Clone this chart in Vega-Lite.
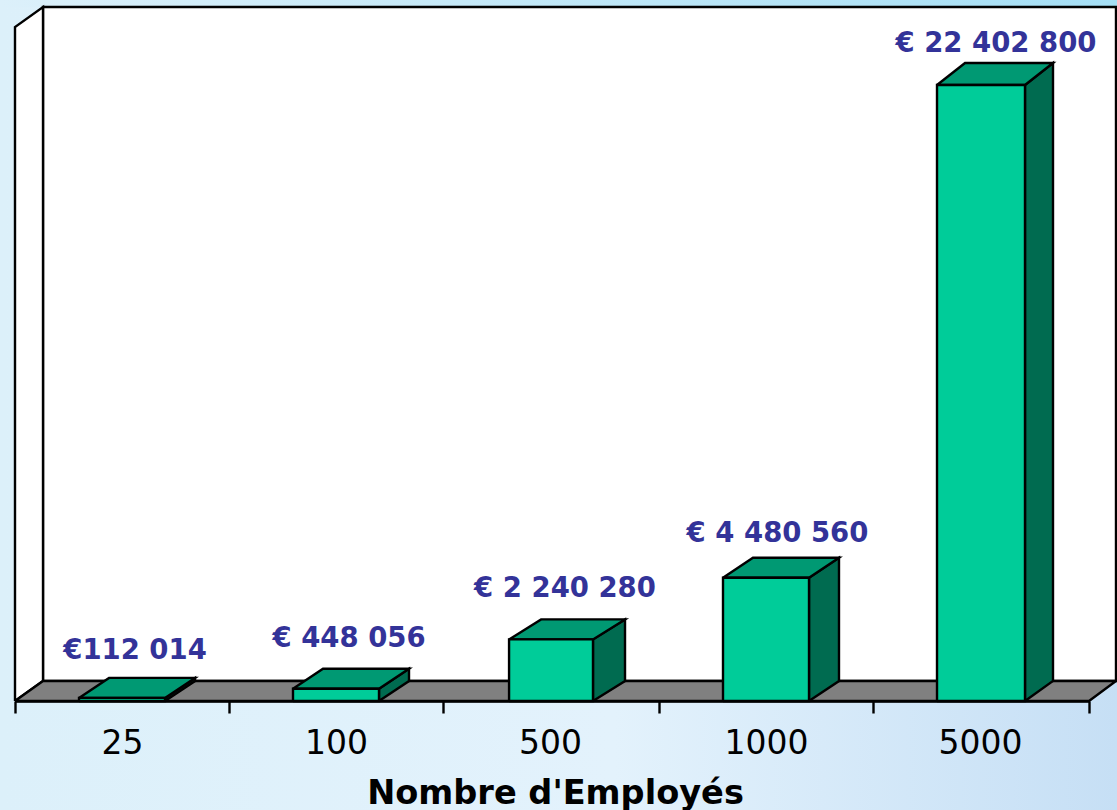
{
"$schema":"https://vega.github.io/schema/vega-lite/v6.json",
"width":1074,"height":674,
"autosize":{"type":"none"},
"padding":{"left":15,"top":27,"right":28,"bottom":109},
"background":"#e0f0fa",
"config":{"view":{"stroke":null}},
"datasets":{
 "barres":[
  {"employes":"25","valeur":112014,"etiquette":"€112 014"},
  {"employes":"100","valeur":448056,"etiquette":"€ 448 056"},
  {"employes":"500","valeur":2240280,"etiquette":"€ 2 240 280"},
  {"employes":"1000","valeur":4480560,"etiquette":"€ 4 480 560"},
  {"employes":"5000","valeur":22402800,"etiquette":"€ 22 402 800"}
 ],
 "decor":[{"piece":"cadre"}]
},
"encoding":{
 "x":{"field":"px","type":"quantitative","scale":{"domain":[0,5],"nice":false,"zero":false},
  "axis":{"values":[0,0.9963,1.9926,2.998,3.994,5],"labelExpr":"['25','100','500','1000','5000',''][round(datum.value)]","labelOffset":107,"labelFlush":false,"labelOverlap":false,"labelBound":false,"labelFont":"DejaVu Sans","labelFontSize":33,"labelColor":"#000000","labelPadding":14,"labelAngle":0,"labelBaseline":"top","tickSize":12,"tickWidth":2.4,"tickColor":"#000000","domainWidth":2.4,"domainColor":"#000000","grid":false,"zindex":1,"title":"Nombre d'Employés","titleFont":"DejaVu Sans","titleFontWeight":"bold","titleFontSize":33.6,"titleColor":"#000000","titleX":540,"titleY":102,"titleBaseline":"alphabetic"}},
 "y":{"field":"py","type":"quantitative","scale":{"domain":[0,24512167],"nice":false,"zero":false},"axis":null}
},
"layer":[
 {"data":{"name":"decor"},
  "transform":[
   {"calculate":"[-0.0698,-0.0698,5.1304,5.1304,-0.0698]","as":"px"},
   {"calculate":"[-3964134,25494108,25494108,-3964134,-3964134]","as":"py"},
   {"calculate":"[0,1,2,3,4]","as":"k"},
   {"flatten":["px","py","k"]}],
  "mark":{"type":"line","clip":false,"strokeWidth":0,"stroke":null,"fill":{"x1":0,"y1":0,"x2":1,"y2":0,"gradient":"linear","stops":[{"offset":0,"color":"#dcf0fa"},{"offset":0.55,"color":"#e3f2fc"},{"offset":1,"color":"#c6dff5"}]}},
  "encoding":{"order":{"field":"k"}}},
 {"data":{"name":"decor"},
  "transform":[
   {"calculate":"[-0.0698,-0.0698,5.1304,5.1304,-0.0698]","as":"px"},
   {"calculate":"[25239531,25494108,25494108,25239531,25239531]","as":"py"},
   {"calculate":"[0,1,2,3,4]","as":"k"},
   {"flatten":["px","py","k"]}],
  "mark":{"type":"line","strokeWidth":0,"stroke":null,"fill":{"x1":0,"y1":0,"x2":1,"y2":0,"gradient":"linear","stops":[{"offset":0,"color":"#dcf0fa"},{"offset":1,"color":"#a5dff5"}]}},
  "encoding":{"order":{"field":"k"}}},
 {"data":{"name":"decor"},
  "transform":[
   {"calculate":"[0.1304,0.1304,5.1257,5.1257,0.1304]","as":"px"},
   {"calculate":"[727364,25239531,25239531,727364,727364]","as":"py"},
   {"calculate":"[0,1,2,3,4]","as":"k"},
   {"flatten":["px","py","k"]}],
  "mark":{"type":"line","strokeWidth":2.4,"stroke":"#000000","fill":"#ffffff","strokeJoin":"miter"},
  "encoding":{"order":{"field":"k"}}},
 {"data":{"name":"decor"},
  "transform":[
   {"calculate":"[0,0,0.1304,0.1304,0]","as":"px"},
   {"calculate":"[0,24512167,25239531,727364,0]","as":"py"},
   {"calculate":"[0,1,2,3,4]","as":"k"},
   {"flatten":["px","py","k"]}],
  "mark":{"type":"line","strokeWidth":2.4,"stroke":"#000000","fill":"#ffffff","strokeJoin":"miter"},
  "encoding":{"order":{"field":"k"}}},
 {"data":{"name":"decor"},
  "transform":[
   {"calculate":"[0,0.1304,5.1257,5,0]","as":"px"},
   {"calculate":"[0,727364,727364,0,0]","as":"py"},
   {"calculate":"[0,1,2,3,4]","as":"k"},
   {"flatten":["px","py","k"]}],
  "mark":{"type":"line","strokeWidth":2.4,"stroke":"#000000","fill":"#808080","strokeJoin":"miter"},
  "encoding":{"order":{"field":"k"}}},
 {"data":{"name":"barres"},
  "transform":[
   {"calculate":"indexof(['25','100','500','1000','5000'],datum.employes)","as":"r"},
   {"calculate":"[0.6983,1.6946,2.6908,3.6965,4.7020][datum.r]","as":"xd"},
   {"calculate":"[0.8380,1.8343,2.8399,3.8361,4.8324][datum.r]","as":"xf"},
   {"calculate":"[20,20,20,20,22][datum.r]*36368","as":"dv"},
   {"calculate":"[datum.xd,datum.xd,datum.xf,datum.xf,datum.xd]","as":"px"},
   {"calculate":"[0,datum.valeur,datum.valeur+datum.dv,727364,0]","as":"py"},
   {"calculate":"[0,1,2,3,4]","as":"k"},
   {"flatten":["px","py","k"]}],
  "mark":{"type":"line","strokeWidth":2.4,"stroke":"#000000","fill":"#006b50","strokeJoin":"miter"},
  "encoding":{"order":{"field":"k"},"detail":{"field":"employes"}}},
 {"data":{"name":"barres"},
  "transform":[
   {"calculate":"indexof(['25','100','500','1000','5000'],datum.employes)","as":"r"},
   {"calculate":"[0.2980,1.2942,2.3001,3.2961,4.2924][datum.r]","as":"xg"},
   {"calculate":"[0.6983,1.6946,2.6908,3.6965,4.7020][datum.r]","as":"xd"},
   {"calculate":"[0.8380,1.8343,2.8399,3.8361,4.8324][datum.r]","as":"xf"},
   {"calculate":"[20,20,20,20,22][datum.r]*36368","as":"dv"},
   {"calculate":"[datum.xg,datum.xg+datum.xf-datum.xd,datum.xf,datum.xd,datum.xg]","as":"px"},
   {"calculate":"[datum.valeur,datum.valeur+datum.dv,datum.valeur+datum.dv,datum.valeur,datum.valeur]","as":"py"},
   {"calculate":"[0,1,2,3,4]","as":"k"},
   {"flatten":["px","py","k"]}],
  "mark":{"type":"line","strokeWidth":2.4,"stroke":"#000000","fill":"#009973","strokeJoin":"miter"},
  "encoding":{"order":{"field":"k"},"detail":{"field":"employes"}}},
 {"data":{"name":"barres"},
  "transform":[
   {"calculate":"indexof(['25','100','500','1000','5000'],datum.employes)","as":"r"},
   {"calculate":"[0.2980,1.2942,2.3001,3.2961,4.2924][datum.r]","as":"xg"},
   {"calculate":"[0.6983,1.6946,2.6908,3.6965,4.7020][datum.r]","as":"xd"},
   {"calculate":"[datum.xg,datum.xg,datum.xd,datum.xd,datum.xg]","as":"px"},
   {"calculate":"[0,datum.valeur,datum.valeur,0,0]","as":"py"},
   {"calculate":"[0,1,2,3,4]","as":"k"},
   {"flatten":["px","py","k"]}],
  "mark":{"type":"line","strokeWidth":2.4,"stroke":"#000000","fill":"#00cc99","strokeJoin":"miter"},
  "encoding":{"order":{"field":"k"},"detail":{"field":"employes"}}},
 {"data":{"name":"barres"},
  "transform":[
   {"calculate":"indexof(['25','100','500','1000','5000'],datum.employes)","as":"r"},
   {"calculate":"[0.5587,1.5549,2.5605,3.5498,4.5670][datum.r]","as":"px"},
   {"calculate":"datum.valeur+[20,20,20,20,22][datum.r]*36368+[19,22,22,16,11][datum.r]*36368","as":"py"}],
  "mark":{"type":"text","font":"DejaVu Sans","fontWeight":"bold","fontSize":27.5,"color":"#333399","align":"center","baseline":"alphabetic"},
  "encoding":{"text":{"field":"etiquette"}}}
]
}
